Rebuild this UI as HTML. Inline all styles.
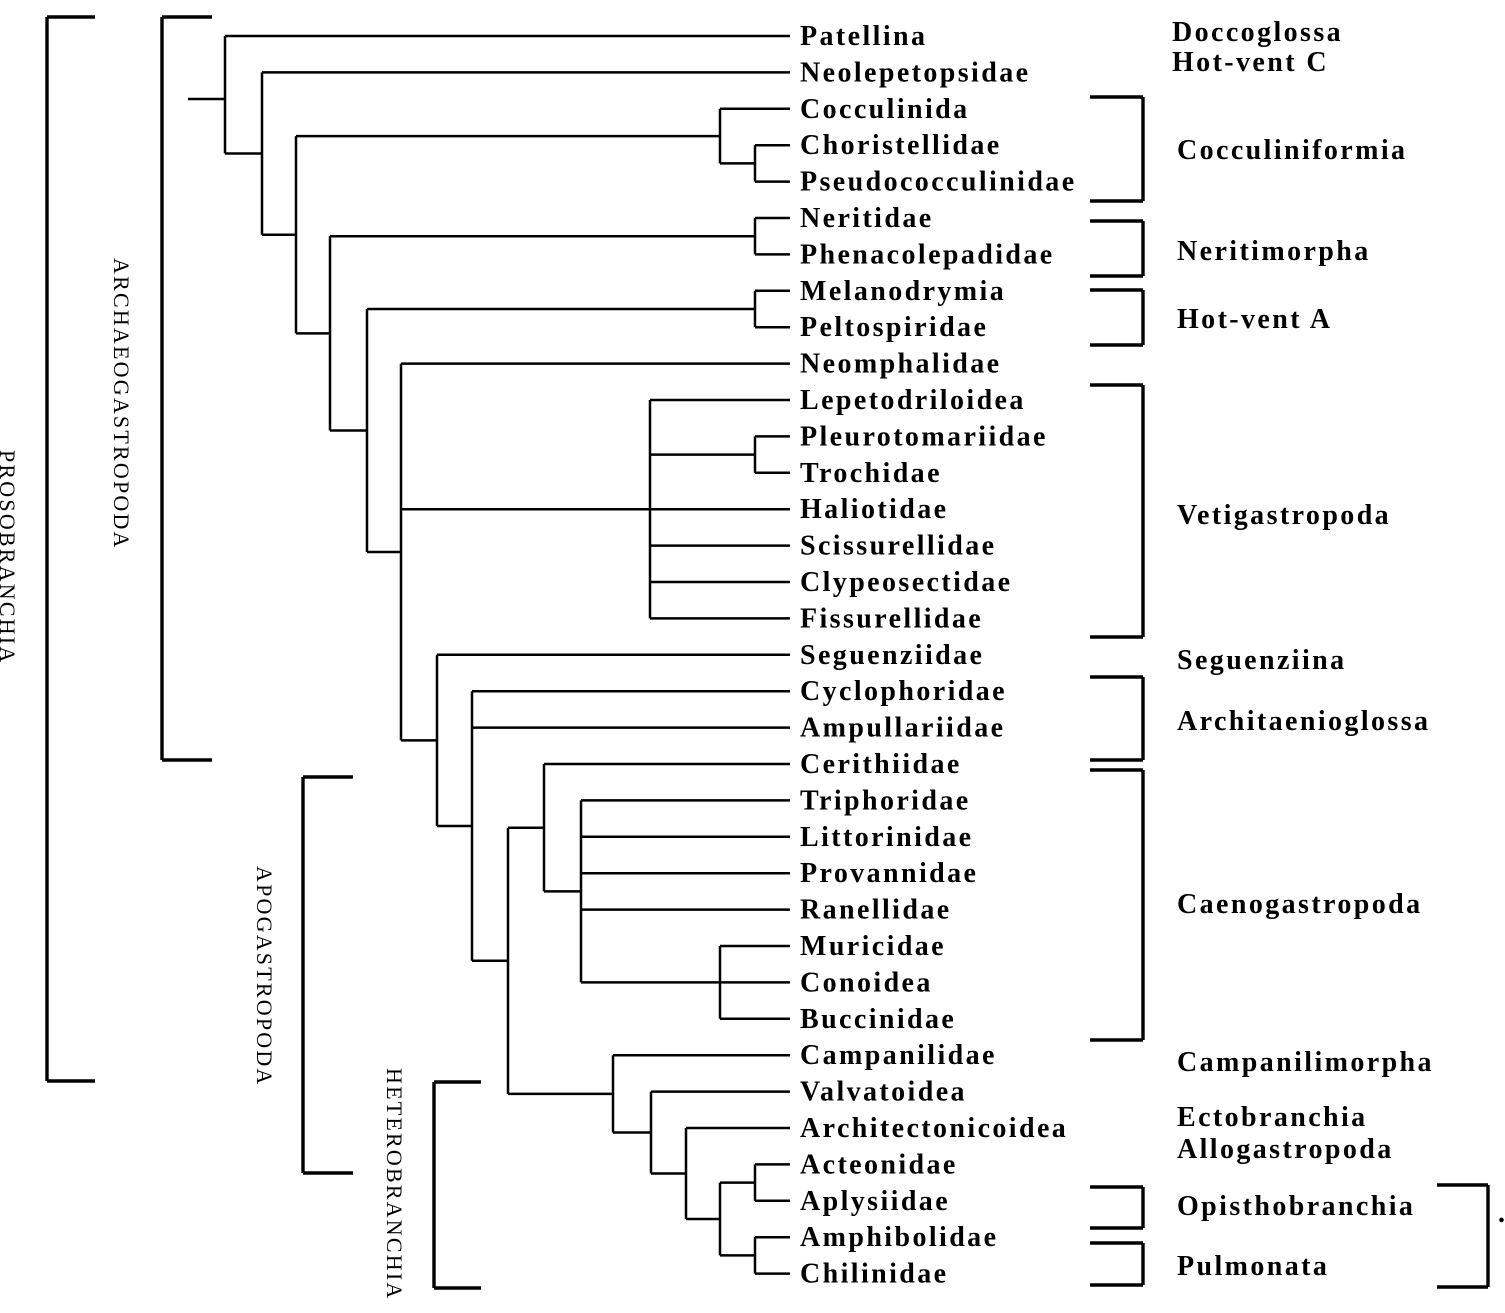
<!DOCTYPE html>
<html><head><meta charset="utf-8">
<style>
html,body{margin:0;padding:0;background:#fff;}
svg{display:block;}
text{font-family:"Liberation Serif",serif;fill:#000;}
.tx{font-size:28px;font-weight:bold;letter-spacing:2.4px;}
.grp{font-size:22px;letter-spacing:2.2px;}
</style></head>
<body>
<svg id="chart" width="1505" height="1313" viewBox="0 0 1505 1313" xmlns="http://www.w3.org/2000/svg">
<g id="lines" stroke="#000" stroke-width="2.5" fill="none"></g>
<g id="brackets" stroke="#000" stroke-width="3.4" fill="none"></g>
<g id="labels"></g>
</svg>
<script>
const taxa = ["Patellina","Neolepetopsidae","Cocculinida","Choristellidae","Pseudococculinidae","Neritidae","Phenacolepadidae","Melanodrymia","Peltospiridae","Neomphalidae","Lepetodriloidea","Pleurotomariidae","Trochidae","Haliotidae","Scissurellidae","Clypeosectidae","Fissurellidae","Seguenziidae","Cyclophoridae","Ampullariidae","Cerithiidae","Triphoridae","Littorinidae","Provannidae","Ranellidae","Muricidae","Conoidea","Buccinidae","Campanilidae","Valvatoidea","Architectonicoidea","Acteonidae","Aplysiidae","Amphibolidae","Chilinidae"];
const groupNames = ["Doccoglossa","Hot-vent C","Cocculiniformia","Neritimorpha","Hot-vent A","Vetigastropoda","Seguenziina","Architaenioglossa","Caenogastropoda","Campanilimorpha","Ectobranchia","Allogastropoda","Opisthobranchia","Pulmonata"];
const groupY = [32,62,150,251,319,515,660,721,904,1062,1117,1149,1206,1266];
const ns="http://www.w3.org/2000/svg";
const Y = i => 36 + i*36.4;
const LEAFX = 790;
const L = document.getElementById('lines');
const B = document.getElementById('brackets');
const T = document.getElementById('labels');
function line(g,x1,y1,x2,y2){const l=document.createElementNS(ns,'line');l.setAttribute('x1',x1);l.setAttribute('y1',y1);l.setAttribute('x2',x2);l.setAttribute('y2',y2);g.appendChild(l);}
function txt(s,x,y,cls,rot){const t=document.createElementNS(ns,'text');t.setAttribute('x',x);t.setAttribute('y',y);t.setAttribute('class',cls);if(rot)t.setAttribute('transform',`rotate(90 ${x} ${y})`);t.textContent=s;T.appendChild(t);return t;}
function N(x,...c){return {x,c};}
const tree = N(225,0,
  N(262,1,
    N(296,
      N(720,2,N(755,3,4)),
      N(330,
        N(755,5,6),
        N(367,
          N(755,7,8),
          N(401,9,
            N(650,10,N(755,11,12),13,14,15,16),
            N(437,17,
              N(472,18,19,
                N(508,
                  N(544,20,N(581,21,22,23,24,N(720,25,26,27))),
                  N(613,28,N(651,29,N(686,30,N(720,N(755,31,32),N(755,33,34)))))
                )
              )
            )
          )
        )
      )
    )
  )
);
function draw(n){
  const ys=n.c.map(c=>typeof c==='number'?{y:Y(c),leaf:true,i:c}:{y:draw(c),node:c});
  ys.forEach(o=>{line(L,n.x,o.y,o.leaf?LEAFX:o.node.x,o.y);});
  const mn=Math.min(...ys.map(o=>o.y)),mx=Math.max(...ys.map(o=>o.y));
  line(L,n.x,mn,n.x,mx);
  return (mn+mx)/2;
}
draw(tree);
line(L,188,99,225,99);
taxa.forEach((s,i)=>{const t=txt(s,800,Y(i)+9,'tx');

});
function lb(x,y1,y2,w){line(B,x+w,y1,x,y1);line(B,x,y1,x,y2);line(B,x,y2,x+w,y2);}
function rb(x,y1,y2,w){line(B,x-w,y1,x,y1);line(B,x,y1,x,y2);line(B,x,y2,x-w,y2);}
lb(47,17,1081,48);lb(162,17,760,50);lb(303,777,1173,50);lb(434,1082,1288,47);
[[97,201],[221,276],[290,345],[385,637],[677,760],[770,1040],[1187,1228],[1243,1285]].forEach(a=>rb(1143,a[0],a[1],53));
rb(1488,1185,1287,51);
groupNames.forEach((s,i)=>{const t=txt(s,i<2?1172:1177,groupY[i]+9,'tx');

});
const v=[["PROSOBRANCHIA",0,450],["ARCHAEOGASTROPODA",114,258],["APOGASTROPODA",257,866],["HETEROBRANCHIA",387,1068]];
v.forEach(a=>{const t=txt(a[0],a[1],a[2],'grp',true);

});
txt('.',1498,1222,'tx');
</script>
</body></html>
